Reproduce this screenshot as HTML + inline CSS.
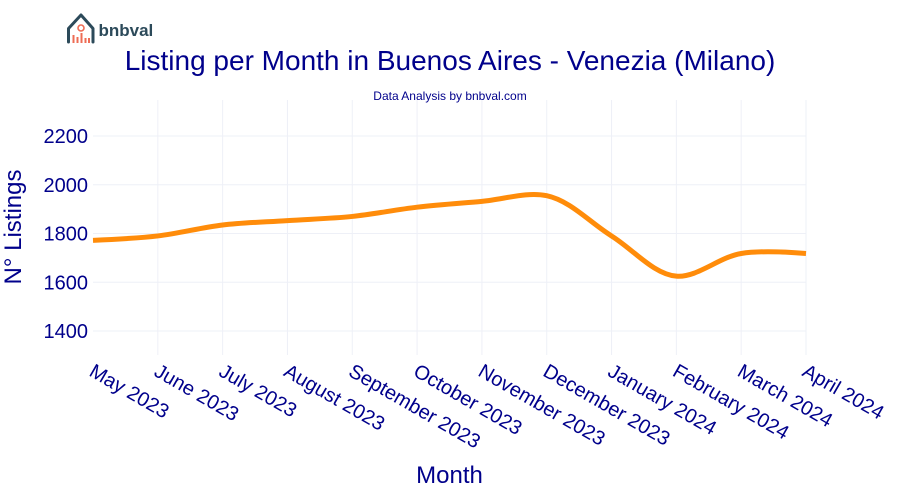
<!DOCTYPE html>
<html>
<head>
<meta charset="utf-8">
<style>
html,body{margin:0;padding:0;background:#fff;}
svg{display:block;font-family:"Liberation Sans",Arial,sans-serif;}
</style>
</head>
<body>
<svg id="chart" width="900" height="500" viewBox="0 0 900 500" xmlns="http://www.w3.org/2000/svg">
<rect width="900" height="500" fill="#fff"/>
<g id="grid"></g>
<path id="line" fill="none" stroke="#ff8c0a" stroke-width="5" stroke-linejoin="round"/>
<g id="yticks"></g>
<g id="xticks"></g>
<text x="450" y="70" text-anchor="middle" font-size="28" fill="#00008b">Listing per Month in Buenos Aires - Venezia (Milano)</text>
<text x="450" y="100" text-anchor="middle" font-size="12" fill="#00008b">Data Analysis by bnbval.com</text>
<text transform="translate(21,227) rotate(-90)" text-anchor="middle" font-size="24" fill="#00008b">N° Listings</text>
<text x="449.500" y="483" text-anchor="middle" font-size="24" fill="#00008b">Month</text>
<g>
<path d="M68.500 42V28.500L81 15L93 28.500V42" fill="none" stroke="#2c4a5a" stroke-width="3" stroke-linejoin="round" stroke-linecap="round"/>
<circle cx="81" cy="28" r="3" fill="none" stroke="#ee6c55" stroke-width="1.600"/>
<path d="M73.500 43V35M77.500 43V37M81.500 43V33M85.500 43V38M89 43V38" stroke="#ee6c55" stroke-width="2" fill="none"/>
<text x="98.500" y="36" font-size="17" font-weight="bold" fill="#2c4a5a">bnbval</text>
</g>
</svg>
<script>
const categories = ["May 2023","June 2023","July 2023","August 2023","September 2023","October 2023","November 2023","December 2023","January 2024","February 2024","March 2024","April 2024"];
const listings = [1772,1790,1835,1853,1870,1908,1932,1955,1790,1625,1718,1718];
const yTicks = [1400,1600,1800,2000,2200];

const NS = "http://www.w3.org/2000/svg";
const plot = {left:93, right:806, top:100, bottom:355};
function xScale(i){ return plot.left + i * (plot.right - plot.left) / (categories.length - 1); }
function yScale(v){ return 331 - (v - 1400) * (195 / 800); }

function controlPoints(p0, p1, p2, s){
  const d1x = p0[0]-p1[0], d1y = p0[1]-p1[1], d2x = p2[0]-p1[0], d2y = p2[1]-p1[1];
  const d1a = Math.pow(d1x*d1x+d1y*d1y, s/2), d2a = Math.pow(d2x*d2x+d2y*d2y, s/2);
  const nx = (d2a*d2a*d1x - d1a*d1a*d2x)*s, ny = (d2a*d2a*d1y - d1a*d1a*d2y)*s;
  const a = 3*d2a*(d1a+d2a), b = 3*d1a*(d1a+d2a);
  return [[p1[0]+(a&&nx/a), p1[1]+(a&&ny/a)], [p1[0]-(b&&nx/b), p1[1]-(b&&ny/b)]];
}
function splinePath(pts, s){
  const t = [];
  for (let i = 1; i < pts.length-1; i++) t.push(controlPoints(pts[i-1], pts[i], pts[i+1], s));
  const f = p => p[0].toFixed(2)+","+p[1].toFixed(2);
  let d = "M"+f(pts[0])+"Q"+f(t[0][0])+" "+f(pts[1]);
  for (let i = 2; i < pts.length-1; i++) d += "C"+f(t[i-2][1])+" "+f(t[i-1][0])+" "+f(pts[i]);
  d += "Q"+f(t[pts.length-3][1])+" "+f(pts[pts.length-1]);
  return d;
}

const grid = document.getElementById("grid");
const yG = document.getElementById("yticks");
const xG = document.getElementById("xticks");

yTicks.forEach(function(v){
  const l = document.createElementNS(NS,"line");
  l.setAttribute("x1", plot.left); l.setAttribute("x2", plot.right);
  l.setAttribute("y1", yScale(v)); l.setAttribute("y2", yScale(v));
  l.setAttribute("stroke", "#eef0f7");
  
  
  grid.appendChild(l);
  const t = document.createElementNS(NS,"text");
  t.setAttribute("x", 88); t.setAttribute("y", yScale(v)+7);
  t.setAttribute("text-anchor", "end"); t.setAttribute("font-size", "20"); t.setAttribute("fill", "#00008b");
  
  
  t.textContent = v;
  yG.appendChild(t);
});

categories.forEach(function(c, i){
  const x = xScale(i);
  if (i > 0) {
    const l = document.createElementNS(NS,"line");
    l.setAttribute("x1", x); l.setAttribute("x2", x);
    l.setAttribute("y1", plot.top); l.setAttribute("y2", plot.bottom);
    l.setAttribute("stroke", "#eef0f7");
    
    
    grid.appendChild(l);
  }
  const t = document.createElementNS(NS,"text");
  t.setAttribute("transform", "translate("+(x-5)+",375) rotate(30)");
  t.setAttribute("font-size", "20"); t.setAttribute("fill", "#00008b");
  
  
  t.textContent = c;
  xG.appendChild(t);
});

document.getElementById("line").setAttribute("d",
  splinePath(listings.map(function(v,i){ return [xScale(i), yScale(v)]; }), 1));
</script>
</body>
</html>
